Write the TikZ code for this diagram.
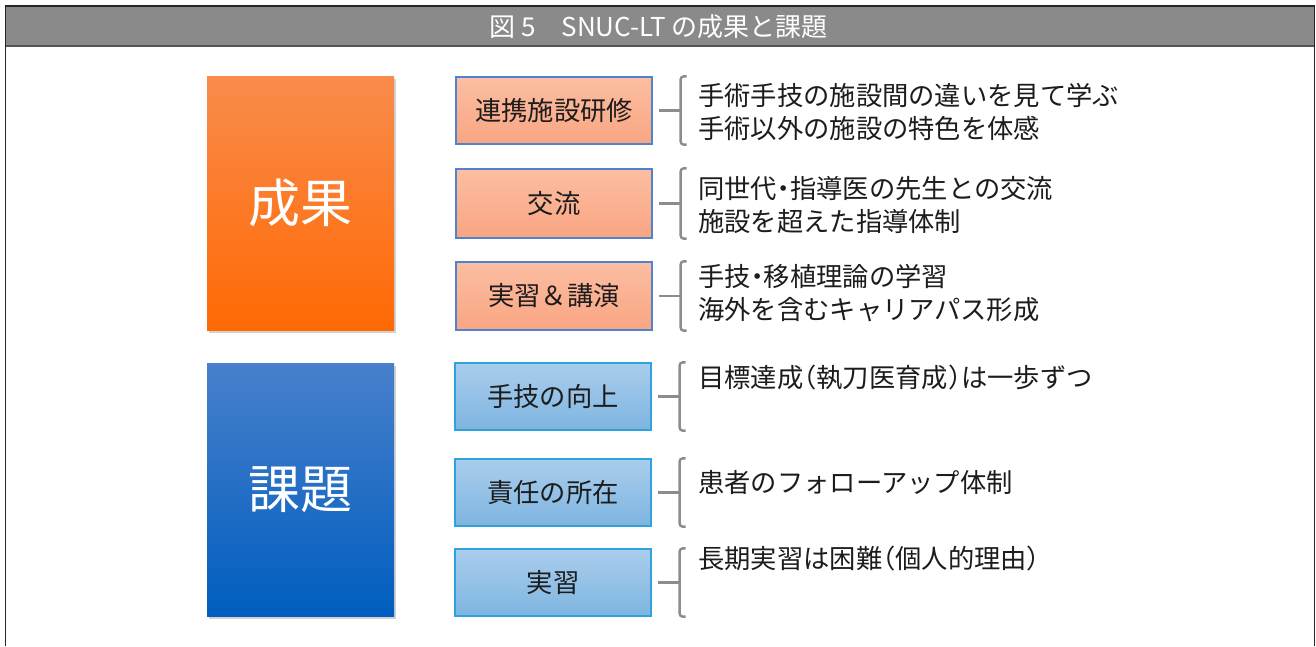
\documentclass[tikz,border=0pt]{standalone}
\usepackage{fontspec}
\setmainfont{Noto Sans CJK JP}
\usetikzlibrary{shadows,calc}
\definecolor{framec}{HTML}{2B2424}
\definecolor{barc}{HTML}{8A8A8A}
\definecolor{barline}{HTML}{555555}
\definecolor{orTop}{HTML}{F98C4C}
\definecolor{orBot}{HTML}{FF6904}
\definecolor{blTop}{HTML}{4880CC}
\definecolor{blBot}{HTML}{005EBF}
\definecolor{soTop}{HTML}{FCBEA2}
\definecolor{soBot}{HTML}{F9A582}
\definecolor{soEdge}{HTML}{4F82CF}
\definecolor{sbTop}{HTML}{AACDEC}
\definecolor{sbBot}{HTML}{7EB5E1}
\definecolor{sbEdge}{HTML}{2EA3DC}
\definecolor{brk}{HTML}{8C8C8C}
\definecolor{txt}{HTML}{1C1C1C}
\newcommand{\hw}[1]{{\addfontfeatures{RawFeature=+halt}#1}}
\tikzset{
  bigbox/.style={rectangle, minimum width=187pt, inner sep=0pt, text=white,
    font=\fontsize{52}{52}\selectfont,
    drop shadow={shadow xshift=1.5pt, shadow yshift=-3pt, opacity=0.35}},
  bigor/.style={bigbox, top color=orTop, bottom color=orBot, minimum height=254pt},
  bigbl/.style={bigbox, top color=blTop, bottom color=blBot, minimum height=253pt},
  smallbox/.style={rectangle, minimum width=196pt, inner sep=0pt, line width=1.3pt,
    text=txt, font=\fontsize{26.3}{27}\selectfont},
  smor/.style={smallbox, draw=soEdge, top color=soTop, bottom color=soBot},
  smbl/.style={smallbox, draw=sbEdge, top color=sbTop, bottom color=sbBot},
  desc/.style={anchor=west, align=left, inner sep=0pt, text=txt,
    font=\fontsize{26.3}{33}\selectfont},
  brack/.style={draw=brk, line width=2.4pt},
}
\newcommand{\brackof}[1]{%
  \draw[brack] ($(#1.east)+(6,0)$) -- ($(#1.east)+(28,0)$);
  \draw[brack, rounded corners=3pt] ($(#1.north east)+(34,0)$) -- ($(#1.north east)+(28,0)$)
    -- ($(#1.south east)+(28,0)$) -- ($(#1.south east)+(34,0)$);
}
\begin{document}
\begin{tikzpicture}[x=1pt,y=-1pt]
\useasboundingbox (0,0) rectangle (1316,646);
\fill[white] (0,0) rectangle (1316,646);
% frame and title bar
\fill[barc] (5.3,6) rectangle (1314.3,46);
\fill[barline] (5.3,44.5) rectangle (1314.3,47);
\draw[framec, line width=1.2pt] (5.3,646) -- (5.3,6) -- (1314.3,6) -- (1314.3,646);
\node[text=white, font=\fontsize{26}{26}\selectfont, inner sep=0pt] (title) at (658.5,26.5) {図 5　SNUC-LT の成果と課題};
% big boxes
\node[bigor] (seika) at (300.5,203) {成果};
\node[bigbl] (kadai) at (300.5,489.5) {課題};
% small boxes
\node[smor, minimum height=67pt] (o1) at (554,110.5) {連携施設研修};
\node[smor, minimum height=69pt] (o2) at (554,203.5) {交流};
\node[smor, minimum height=68pt] (o3) at (554,296) {実習＆講演};
\node[smbl, minimum height=67pt] (b1) at (553,396.5) {手技の向上};
\node[smbl, minimum height=67pt] (b2) at (553,492.5) {責任の所在};
\node[smbl, minimum height=67pt] (b3) at (553,582.5) {実習};
% brackets
\brackof{o1}
\brackof{o2}
\brackof{o3}
\brackof{b1}
\brackof{b2}
\brackof{b3}
% descriptions
\node[desc] (t1) at (698,111.5) {手術手技の施設間の違いを見て学ぶ\\手術以外の施設の特色を体感};
\node[desc] (t2) at (698,205) {同世代\hw{・}指導医の先生との交流\\施設を超えた指導体制};
\node[desc] (t3) at (698,293) {手技\hw{・}移植理論の学習\\海外を含むキャリアパス形成};
\node[desc] (t4) at (698,378) {目標達成\hw{（}執刀医育成\hw{）}は一歩ずつ};
\node[desc] (t5) at (698,482) {患者のフォローアップ体制};
\node[desc] (t6) at (698,558) {長期実習は困難\hw{（}個人的理由\hw{）}};
\end{tikzpicture}
\end{document}
